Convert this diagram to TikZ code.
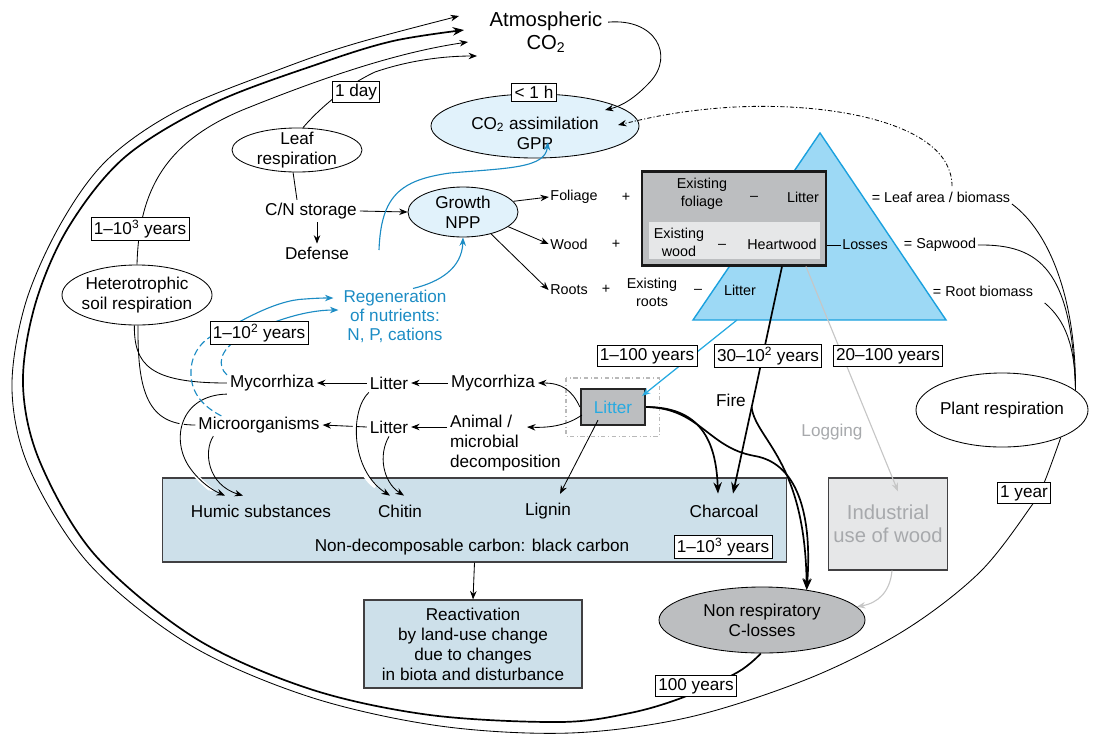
\documentclass[tikz,border=0pt]{standalone}
\usepackage{fontspec}
\setmainfont{Liberation Sans}
\usepackage{tikz}
\usetikzlibrary{shapes.geometric, arrows.meta, positioning, calc}

\definecolor{paleblue}{HTML}{E1F2FB}
\definecolor{triblue}{HTML}{9DD9F5}
\definecolor{triline}{HTML}{1BA1DE}
\definecolor{nutblue}{HTML}{1C8CC4}
\definecolor{litblue}{HTML}{27AAE1}
\definecolor{soilblue}{HTML}{CDE0EA}
\definecolor{poolgray}{HTML}{BCBEC0}
\definecolor{lightgray}{HTML}{E6E7E8}
\definecolor{loggray}{HTML}{A7A9AC}
\definecolor{inkgray}{HTML}{414042}

\newcommand{\fnorm}{\fontsize{12.2}{14.2}\selectfont}
\newcommand{\fsmall}{\fontsize{10.2}{12.8}\selectfont}
\newcommand{\fbig}{\fontsize{14.4}{16.5}\selectfont}

\begin{document}
\begin{tikzpicture}[
        x=0.025cm, y=-0.025cm,
        font=\fnorm,
        txt/.style = {inner sep=2pt, align=center},
        sml/.style = {font=\fsmall, inner sep=1pt, align=center},
        tbox/.style = {draw, fill=white, inner sep=2pt, line width=0.6pt},
        oval/.style = {ellipse, draw, line width=0.6pt, inner sep=0pt},
        lbl/.style = {align=center, inner sep=0pt},
        ln/.style = {line width=0.6pt},
        arrow/.style = {line width=0.6pt, -{Stealth[length=6pt, width=4.6pt]}},
        fat arrow/.style = {line width=1.2pt, -{Stealth[length=8pt, width=6pt]}},
        nut/.style = {draw=nutblue, line width=0.8pt, -{Stealth[length=6pt, width=4.6pt]}},
        nutdash/.style = {draw=nutblue, line width=0.8pt, dash pattern=on 5pt off 2.5pt},
        halo/.style = {preaction={draw=white, line width=3pt, -, shorten <=5pt, shorten >=12pt}},
        logline/.style = {draw=gray!45, line width=0.8pt, -{Stealth[length=6pt, width=4.6pt]}}
    ]
    \useasboundingbox (0,0) rectangle (1109,744);

    % --- TREE TRIANGLE ---
    \draw[fill=triblue, draw=triline, line width=1pt] (693,320) -- (820,133) -- (946,320) -- cycle;
    \coordinate (tribase) at (737,320);

    % --- ATMOSPHERE AND LEAVES ---
    \node[txt, font=\fbig] (atm) at (546,32) {Atmospheric\\CO\textsubscript{2}};
    \node[oval, fill=paleblue, minimum width=5.2cm, minimum height=1.6cm,
          label={[lbl, yshift=-5pt]center:CO\textsubscript{2} assimilation\\GPP}] (gpp) at (535,126) {};
    \node[tbox] (hour) at (534,92) {< 1 h};
    \node[oval, minimum width=3.25cm, minimum height=1.1cm, label={[lbl]center:Leaf\\respiration}] (leaf) at (297,150) {};
    \node[txt] (storage) at (311,211) {C/N storage};
    \node[txt] (defense) at (317,253) {Defense};
    \node[oval, fill=paleblue, minimum width=2.75cm, minimum height=1.25cm, label={[lbl]center:Growth\\NPP}] (growth) at (463,212) {};

    % --- BIOMASS POOLS ---
    \node[sml] (foliage) at (574,197) {Foliage};
    \node[sml] (wood) at (569,244) {Wood};
    \node[sml] (roots) at (569,290) {Roots};
    \node[sml] (plusf) at (626,197) {+};
    \node[sml] (plusw) at (616,244) {+};
    \node[sml] (plusr) at (606,289) {+};
    \node[draw=black!90, line width=2pt, fill=poolgray, minimum width=4.6cm, minimum height=2.33cm] (pool) at (734,218.5) {};
    \fill[lightgray] (649,222) rectangle (820,259);
    \node[sml] (exfol) at (702,194) {Existing\\foliage};
    \node[sml] (minusf) at (754,198) {--};
    \node[sml] (litf) at (803,197) {Litter};
    \node[sml] (exwood) at (679,242) {Existing\\wood};
    \node[sml] (minusw) at (722,246) {--};
    \node[sml] (heart) at (782,244) {Heartwood};
    \node[sml] (exroots) at (652,292) {Existing\\roots};
    \node[sml] (minusr) at (698,291) {--};
    \node[sml] (litr) at (740,290) {Litter};
    \node[sml] (losses) at (865,245) {Losses};
    \node[sml] (leafarea) at (941,197) {= Leaf area / biomass};
    \node[sml] (sapwood) at (940,245) {= Sapwood};
    \node[sml] (rootbio) at (983,291) {= Root biomass};

    % --- PLANT RESPIRATION AND LOSSES ---
    \node[oval, minimum width=4.3cm, minimum height=1.85cm, label={[lbl]center:Plant respiration}] (plant) at (1002,410) {};
    \node[draw=inkgray, line width=0.8pt, fill=lightgray, minimum width=2.875cm, minimum height=2.3cm,
          text=loggray, font=\fbig, align=center] (ind) at (888,524) {Industrial\\use of wood};
    \node[oval, fill=poolgray, minimum width=5.15cm, minimum height=1.65cm, label={[lbl]center:Non respiratory\\C-losses}] (nr) at (762,620) {};
    \node[txt] (fire) at (731,400) {Fire};
    \node[txt, text=loggray] (logging) at (832,432) {Logging};

    % --- SOIL CARBON ---
    \node[draw=inkgray, line width=0.8pt, fill=soilblue, minimum width=15.575cm, minimum height=2.1cm] (nd) at (474.5,520) {};
    \node[txt] (humic) at (261,511) {Humic substances};
    \node[txt] (chitin) at (400,511) {Chitin};
    \node[txt] (lignin) at (548,511) {Lignin};
    \node[txt] (charcoal) at (724,511) {Charcoal};
    \node[txt] (blackc) at (472,547) {Non-decomposable carbon: black carbon};
    \node[tbox] (y1000b) at (723,547) {1--10\textsuperscript{3} years};
    \node[draw=inkgray, line width=0.8pt, fill=soilblue, minimum width=5.45cm, minimum height=2.2cm, align=center] (react) at (473,644)
          {Reactivation\\by land-use change\\due to changes\\in biota and disturbance};

    % --- DECOMPOSERS ---
    \node[oval, minimum width=3.75cm, minimum height=1.5cm, label={[lbl]center:Heterotrophic\\soil respiration}] (het) at (137,295) {};
    \node[txt, text=nutblue, font={\fontsize{12.2}{13.6}\selectfont}] (regen) at (395,316) {Regeneration\\of nutrients:\\N, P, cations};
    \node[txt] (myco1) at (272,383) {Mycorrhiza};
    \node[txt] (lit3) at (389,383) {Litter};
    \node[txt] (myco2) at (493,383) {Mycorrhiza};
    \node[txt] (micro) at (259,425) {Microorganisms};
    \node[txt] (lit4) at (389,427) {Litter};
    \node[txt, anchor=west, align=left] (animal) at (447,443) {Animal /\\microbial\\decomposition};
    \node[draw=black!85, line width=1.6pt, fill=poolgray, minimum width=1.6cm, minimum height=0.9cm, text=litblue] (lit) at (613,407) {Litter};
    \draw[dash dot, gray!55, line width=0.9pt] ($(lit.north west)+(-14,-10)$) rectangle ($(lit.south east)+(13,10)$);

    % arrival points at the atmosphere
    \coordinate (t1) at (459,16);
    \coordinate (t2) at (464,30);
    \coordinate (t3) at (468,42);
    \coordinate (t4) at (477,56);

    % --- CONNECTORS ---

    % atmosphere -> assimilation, leaf area -> assimilation
    \draw[arrow] ([xshift=2pt, yshift=7pt]atm.east) .. controls (655,18) and (675,55) .. (650,82) .. controls (635,98) and (622,106) .. ($(gpp)+(70,-16)$);
    \draw[arrow, dash pattern=on 3pt off 1.5pt on 0.8pt off 1.5pt] ($(leafarea.north)+(11,-4)$) .. controls (952,120) and (820,100) .. (720,108)
          .. controls (670,112) and (640,120) .. ($(gpp)+(83,-1)$);

    % respiration back to the atmosphere
    \draw[arrow] (leaf.75) .. controls (318,110) and (345,86) .. (375,72) .. controls (410,60) and (445,56) .. (t4);
    \draw[arrow] (het.north) .. controls (139,190) and (165,140) .. (250,107) .. controls (330,75) and (400,52) .. (t3);
    \draw[arrow] plot[smooth, tension=0.55] coordinates {(plant.-25) (1044,483) (1032,505) (980,572) (905,630) (810,678) (690,717)
          (570,733) (440,726) (310,697) (190,645) (90,565) (30,470) (12,390) (25,305) (60,225) (107,160) (179,110) (286,67) (357,43) (t1)};
    \draw[fat arrow] plot[smooth, tension=0.55] coordinates {(nr.-92) (738,672) (684,697) (630,713) (560,722) (430,715) (310,689)
          (195,638) (95,555) (40,462) (23,385) (35,305) (68,228) (125,157) (214,103) (321,63) (393,41) (t2)};

    % C/N storage and growth
    \draw[ln] ($(storage.north)+(-14,0)$) -- (leaf.-100);
    \draw[arrow] (storage.south -| defense.north) -- (defense.north);
    \draw[arrow] (storage.east) -- (growth.west);
    \draw[arrow] (growth.12) -- (foliage.west);
    \draw[arrow] (growth.-18) -- (wood.west);
    \draw[arrow] (growth.-38) -- (roots.west);
    \draw[ln] (pool.east |- losses.west) -- (losses.west);

    % to plant respiration
    \draw[ln] (leafarea.south east) .. controls (1050,232) and (1076,300) .. (plant.15);
    \draw[ln] (sapwood.east) .. controls (1040,244) and (1072,270) .. (plant.15);
    \draw[ln] ($(rootbio.south east)+(10,5)$) .. controls (1065,320) and (1075,345) .. (plant.15);

    % tree -> litter, fire, logging
    \draw[draw=litblue, line width=0.9pt, -{Stealth[length=6pt, width=4.6pt]}] (tribase) -- ($(lit.north east)+(-4,8)$);
    \coordinate (firetop) at ($(pool.south)+(48,0)$);
    \coordinate (firebot) at ($(charcoal.north)+(9,-8)$);
    \draw[fat arrow] (firetop) -- (firebot);
    \draw[fat arrow] ($(firetop)!0.62!(firebot)$) .. controls (756,440) and (805,460) .. (nr.34);
    \draw[fat arrow] (lit.east) .. controls (700,407) and (716,440) .. ($(charcoal.north)+(-6,-8)$);
    \draw[fat arrow] (lit.east) .. controls (700,408) and (708,448) .. (755,456) .. controls (800,464) and (812,520) .. (nr.34);
    \draw[logline] ($(pool.south)+(72,0)$) -- ($(ind.north)+(10,14)$);
    \draw[logline] ($(ind.south)+(4,0)$) .. controls (890,592) and (878,603) .. (nr.8);

    % litter decomposition
    \draw[arrow] (lit.west) .. controls (572,390) and (562,383) .. (myco2.east);
    \draw[arrow] ($(lit.west)+(2,8)$) .. controls (568,425) and (550,428) .. ($(animal.west)+(80,-16)$);
    \draw[arrow] ($(lit.south)+(-15,-6)$) -- ($(lignin.north)+(12,-6)$);
    \draw[arrow] (myco2.west) -- (lit3.east);
    \draw[arrow] (lit3.west) -- (myco1.east);
    \draw[arrow] (animal.west |- lit4.east) -- (lit4.east);
    \draw[arrow] (lit4.west) -- (micro.east);

    % heterotrophic soil respiration
    \draw[ln] (het.-95) .. controls (134,365) and (150,383) .. (myco1.west);
    \draw[ln] (het.-88) .. controls (137,400) and (152,425) .. (micro.west);

    % into non-decomposable carbon
    \draw[arrow, halo] (myco1.south west) .. controls (180,395) and (170,440) .. (190,468) .. controls (200,482) and (212,490) .. ($(humic.north)+(-36,-6)$);
    \draw[arrow] ($(micro.south west)+(18,0)$) .. controls (203,452) and (208,485) .. ($(humic.north)+(-18,-6)$);
    \draw[arrow, halo] ($(lit3.south west)+(2,0)$) .. controls (350,410) and (350,470) .. ($(chitin.north)+(-10,-6)$);
    \draw[arrow] (lit4.south) .. controls (378,455) and (383,482) .. ($(chitin.north)+(4,-6)$);
    \draw[arrow] (nd.south) -- (react.north);

    % nutrient regeneration
    \coordinate (regup) at (379,250);
    \coordinate (nutA) at (222,331);
    \coordinate (nutB) at (240,338);
    \draw[nut] (regup) .. controls (381,196) and (400,180) .. (450,173) .. controls (510,168) and (545,168) .. ($(gpp)+(13,16)$);
    \draw[nut] ($(regen.north)+(18,2)$) .. controls (440,282) and (462,268) .. (growth.south);
    \draw[nutdash] ($(micro.north west)+(26,2)$) .. controls (200,405) and (190,390) .. (191,370) .. controls (192,352) and (203,338) .. (nutA);
    \draw[nutdash] ($(myco1.north west)+(0,3)$) .. controls (217,366) and (219,350) .. (nutB);
    \draw[nut] (nutA) .. controls (240,322) and (275,300) .. (305,299) .. controls (318,298) and (326,298) .. ($(regen.west)+(-7,-18)$);
    \draw[nut] (nutB) .. controls (268,322) and (305,310) .. ($(regen.west)+(-2,-6)$);

    % --- TIME SCALES ---
    \node[tbox] (y1000) at (140,229) {1--10\textsuperscript{3} years};
    \node[tbox] (y102) at (259,333) {1--10\textsuperscript{2} years};
    \node[tbox] (day) at (356,92) {1 day};
    \node[tbox] (y100) at (647,356) {1--100 years};
    \node[tbox] (y30) at (768,356) {30--10\textsuperscript{2} years};
    \node[tbox] (y20) at (888,356) {20--100 years};
    \node[tbox] (yr1) at (1024,493) {1 year};
    \node[tbox] (y100b) at (696,686) {100 years};

\end{tikzpicture}
\end{document}
